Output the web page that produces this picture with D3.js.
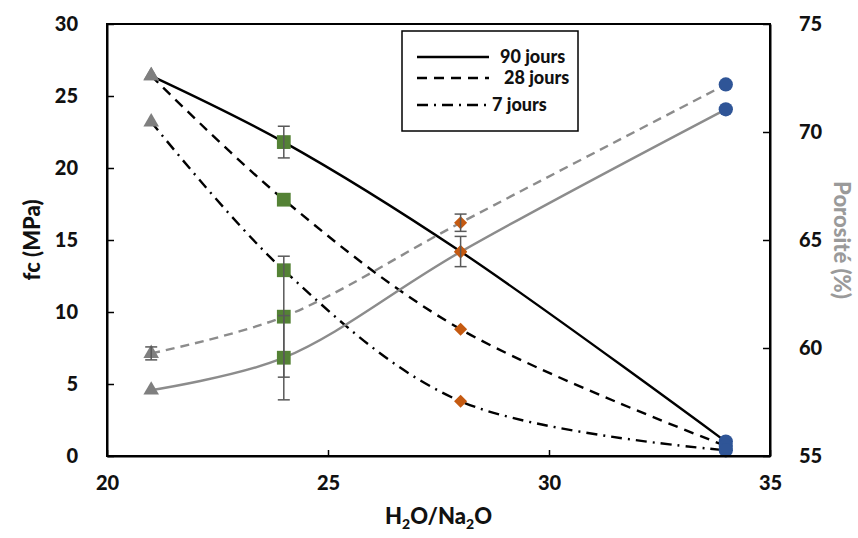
<!DOCTYPE html>
<html>
<head>
<meta charset="utf-8">
<script src="https://cdn.jsdelivr.net/npm/d3@7/dist/d3.min.js"></script>
<style>
  html, body { margin: 0; padding: 0; background: #fff; }
  svg { display: block; font-family: Lato, "Open Sans", sans-serif; font-weight: 900; }
</style>
</head>
<body>
<svg id="chart" width="858" height="538"></svg>
<script>
// ---- data ----
const xValues = [21, 24, 28, 34];
const fc90 = [26.4, 21.8, 14.2, 1.0];
const fc28 = [26.4, 17.8, 8.8, 0.7];
const fc7  = [23.2, 12.9, 3.8, 0.4];
const por90 = [58.05, 59.55, 64.45, 71.05];
const por28 = [59.75, 61.45, 65.8, 72.2];
const fc90Err  = [0, 1.1, 1.05, 0];
const por90Err = [0, 1.95, 0, 0];
const por28Err = [0.3, 2.8, 0.4, 0];
const xTicks = [20, 25, 30, 35];
const yLeftTicks = [0, 5, 10, 15, 20, 25, 30];
const yRightTicks = [55, 60, 65, 70, 75];
const legendLabels = ["90 jours", "28 jours", "7 jours"];
const markerShapes = ["triangle", "square", "diamond", "circle"];
const markerColors = ["#7f7f7f", "#548235", "#c55a11", "#2f5597"];

// ---- layout ----
const svg = d3.select("#chart");
const L = 107, R = 770, T = 24, B = 456;
const x = d3.scaleLinear().domain([20, 35]).range([L, R]);
const yL = d3.scaleLinear().domain([0, 30]).range([B, T]);
const yR = d3.scaleLinear().domain([55, 75]).range([B, T]);

const curve = d3.curveCatmullRom.alpha(0.5);

// series definitions
const series = [
  { vals: fc90, y: yL, color: "#000", dash: null, err: fc90Err },
  { vals: fc28, y: yL, color: "#000", dash: "10,7", err: null },
  { vals: fc7,  y: yL, color: "#000", dash: "11,6,2,6", err: null },
  { vals: por90, y: yR, color: "#8c8c8c", dash: null, err: por90Err },
  { vals: por28, y: yR, color: "#8c8c8c", dash: "9,6", err: por28Err }
];

// lines
series.forEach(s => {
  const line = d3.line().x((d, i) => x(xValues[i])).y(d => s.y(d)).curve(curve);
  svg.append("path")
    .attr("d", line(s.vals))
    .attr("fill", "none")
    .attr("stroke", s.color)
    .attr("stroke-width", 2.4)
    .attr("stroke-dasharray", s.dash);
});

// markers
const sym = {
  triangle: d3.symbolTriangle,
  square: d3.symbolSquare,
  diamond: d3.symbolSquare,
  circle: d3.symbolCircle
};
const sizes = { triangle: 105, square: 190, diamond: 85, circle: 160 };
const rot = { triangle: 0, square: 0, diamond: 45, circle: 0 };
series.forEach(s => {
  s.vals.forEach((v, i) => {
    const shp = markerShapes[i];
    svg.append("path")
      .attr("d", d3.symbol().type(sym[shp]).size(sizes[shp])())
      .attr("transform", `translate(${x(xValues[i])},${s.y(v)}) rotate(${rot[shp]})`)
      .attr("fill", markerColors[i]);
  });
});

// error bars
series.forEach(s => {
  if (!s.err) return;
  s.vals.forEach((v, i) => {
    const e = s.err[i];
    if (!e) return;
    const cx = x(xValues[i]);
    const y1 = s.y(v - e), y2 = s.y(v + e);
    const g = svg.append("g").attr("stroke", "#595959").attr("stroke-width", 1.5);
    g.append("line").attr("x1", cx).attr("x2", cx).attr("y1", y1).attr("y2", y2);
    g.append("line").attr("x1", cx - 6).attr("x2", cx + 6).attr("y1", y1).attr("y2", y1);
    g.append("line").attr("x1", cx - 6).attr("x2", cx + 6).attr("y1", y2).attr("y2", y2);
  });
});

// frame
svg.append("rect").attr("x", L).attr("y", T).attr("width", R - L).attr("height", B - T)
  .attr("fill", "none").attr("stroke", "#000").attr("stroke-width", 2);

// axes (ticks inward)
const axX = svg.append("g").attr("transform", `translate(0,${B})`)
  .call(d3.axisBottom(x).tickValues(xTicks).tickSizeInner(-6).tickSizeOuter(0).tickPadding(16));
const axL = svg.append("g").attr("transform", `translate(${L},0)`)
  .call(d3.axisLeft(yL).tickValues(yLeftTicks).tickSizeInner(-7).tickSizeOuter(0).tickPadding(29));
const axR = svg.append("g").attr("transform", `translate(${R},0)`)
  .call(d3.axisRight(yR).tickValues(yRightTicks).tickSizeInner(-7).tickSizeOuter(0).tickPadding(29));
[axX, axL, axR].forEach(a => {
  a.select(".domain").attr("stroke", "#000").attr("stroke-width", 2);
  a.selectAll(".tick line").attr("stroke", "#000").attr("stroke-width", 1.5);
  a.selectAll(".tick text").attr("fill", "#111").style("font-size", "20px")
    .style("font-family", "Lato, sans-serif").style("font-weight", "900");
});
axX.selectAll(".tick text").attr("dy", "0.9em");

// axis titles
svg.append("text").attr("transform", `translate(32,${(T + B) / 2}) rotate(-90)`)
  .attr("text-anchor", "middle").attr("dy", "0.35em")
  .style("font-size", "22px").attr("fill", "#111").text("fc (MPa)");
svg.append("text").attr("transform", `translate(842,${(T + B) / 2}) rotate(90)`)
  .attr("text-anchor", "middle").attr("dy", "0.35em")
  .style("font-size", "22px").attr("fill", "#9a9a9a").text("Porosité (%)");
const xt = svg.append("text").attr("x", (L + R) / 2).attr("y", 524)
  .attr("text-anchor", "middle").style("font-size", "22px").attr("fill", "#111");
xt.append("tspan").text("H");
xt.append("tspan").text("2").attr("dy", 5).style("font-size", "14px");
xt.append("tspan").text("O/Na").attr("dy", -5);
xt.append("tspan").text("2").attr("dy", 5).style("font-size", "14px");
xt.append("tspan").text("O").attr("dy", -5);

// legend
const lg = svg.append("g");
lg.append("rect").attr("x", 402).attr("y", 31).attr("width", 176).attr("height", 100)
  .attr("fill", "#fff").attr("stroke", "#000").attr("stroke-width", 1.5);
const legendDash = [null, "10,7", "11,6,2,6"];
const legendY = [57, 78, 105];
const legendTextX = [500, 504, 492];
legendLabels.forEach((lab, i) => {
  lg.append("line").attr("x1", 417).attr("x2", 489).attr("y1", legendY[i]).attr("y2", legendY[i])
    .attr("stroke", "#000").attr("stroke-width", 2.4).attr("stroke-dasharray", legendDash[i]);
  lg.append("text").attr("x", legendTextX[i]).attr("y", legendY[i]).attr("dy", "0.35em")
    .style("font-size", "18px").attr("fill", "#111").text(lab);
});
</script>
</body>
</html>
